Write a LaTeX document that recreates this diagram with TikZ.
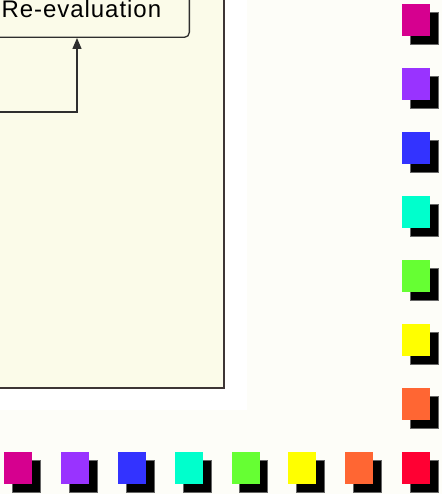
\documentclass[tikz,border=0pt]{standalone}
\usepackage{fontspec}
\setmainfont{Liberation Sans}
\newfontfamily\evalfont[LetterSpace=4]{Liberation Sans}
\usetikzlibrary{positioning,arrows.meta}

\definecolor{pagebg}{HTML}{FDFDF8}
\definecolor{panelfill}{HTML}{FBFBE9}
\definecolor{panelline}{HTML}{3D3535}
\definecolor{boxline}{HTML}{2E2E2E}
\definecolor{swMagenta}{HTML}{D6008F}
\definecolor{swPurple}{HTML}{9933FF}
\definecolor{swBlue}{HTML}{3333FF}
\definecolor{swCyan}{HTML}{00FFCC}
\definecolor{swGreen}{HTML}{66FF33}
\definecolor{swYellow}{HTML}{FFFF00}
\definecolor{swOrange}{HTML}{FF6633}
\definecolor{swRed}{HTML}{FF0033}

\begin{document}
\begin{tikzpicture}[x=1pt,y=-1pt,
    evalbox/.style={draw=boxline,line width=1.3pt,rounded corners=5pt,fill=panelfill,
        minimum width=216pt,minimum height=56pt,inner sep=0pt,
        font=\evalfont\fontsize{24}{28}\selectfont},
    flow/.style={draw=boxline,line width=1.3pt,-{Triangle[length=11pt,width=9pt]}},
    swatch/.style={minimum width=28pt,minimum height=32pt,inner sep=0pt,anchor=north west},
    swshadow/.style={swatch,fill=black,draw=black!60,line width=0.8pt}]
    \useasboundingbox (0,0) rectangle (442,494);
    \fill[pagebg] (0,0) rectangle (442,494);
    \fill[white] (-10,-10) rectangle (247,410);

    % Panneau
    \draw[panelline,line width=2pt,fill=panelfill] (-10,-10) rectangle (224,388);

    \node[evalbox,anchor=south east] (reeval) at (190,38) {Re-evaluation};

    % Boucle de retour
    \coordinate (loopin) at (-20,112);
    \coordinate (loopturn) at (77,112);
    \draw[flow] (loopin) -- (loopturn) -- (loopturn |- reeval.south);

    % Colonne de droite
    \foreach \c [count=\i] in {swMagenta,swPurple,swBlue,swCyan,swGreen,swYellow,swOrange} {
        \node[swshadow] at (410,{12+64*(\i-1)}) {};
        \node[swatch,fill=\c] (side\i) at (402,{4+64*(\i-1)}) {};
    }

    % Ligne du bas
    \foreach \c [count=\i] in {swMagenta,swPurple,swBlue,swCyan,swGreen,swYellow,swOrange,swRed} {
        \node[swshadow] at ({12+56.857*(\i-1)},460) {};
        \node[swatch,fill=\c] (base\i) at ({4+56.857*(\i-1)},452) {};
    }
\end{tikzpicture}
\end{document}
